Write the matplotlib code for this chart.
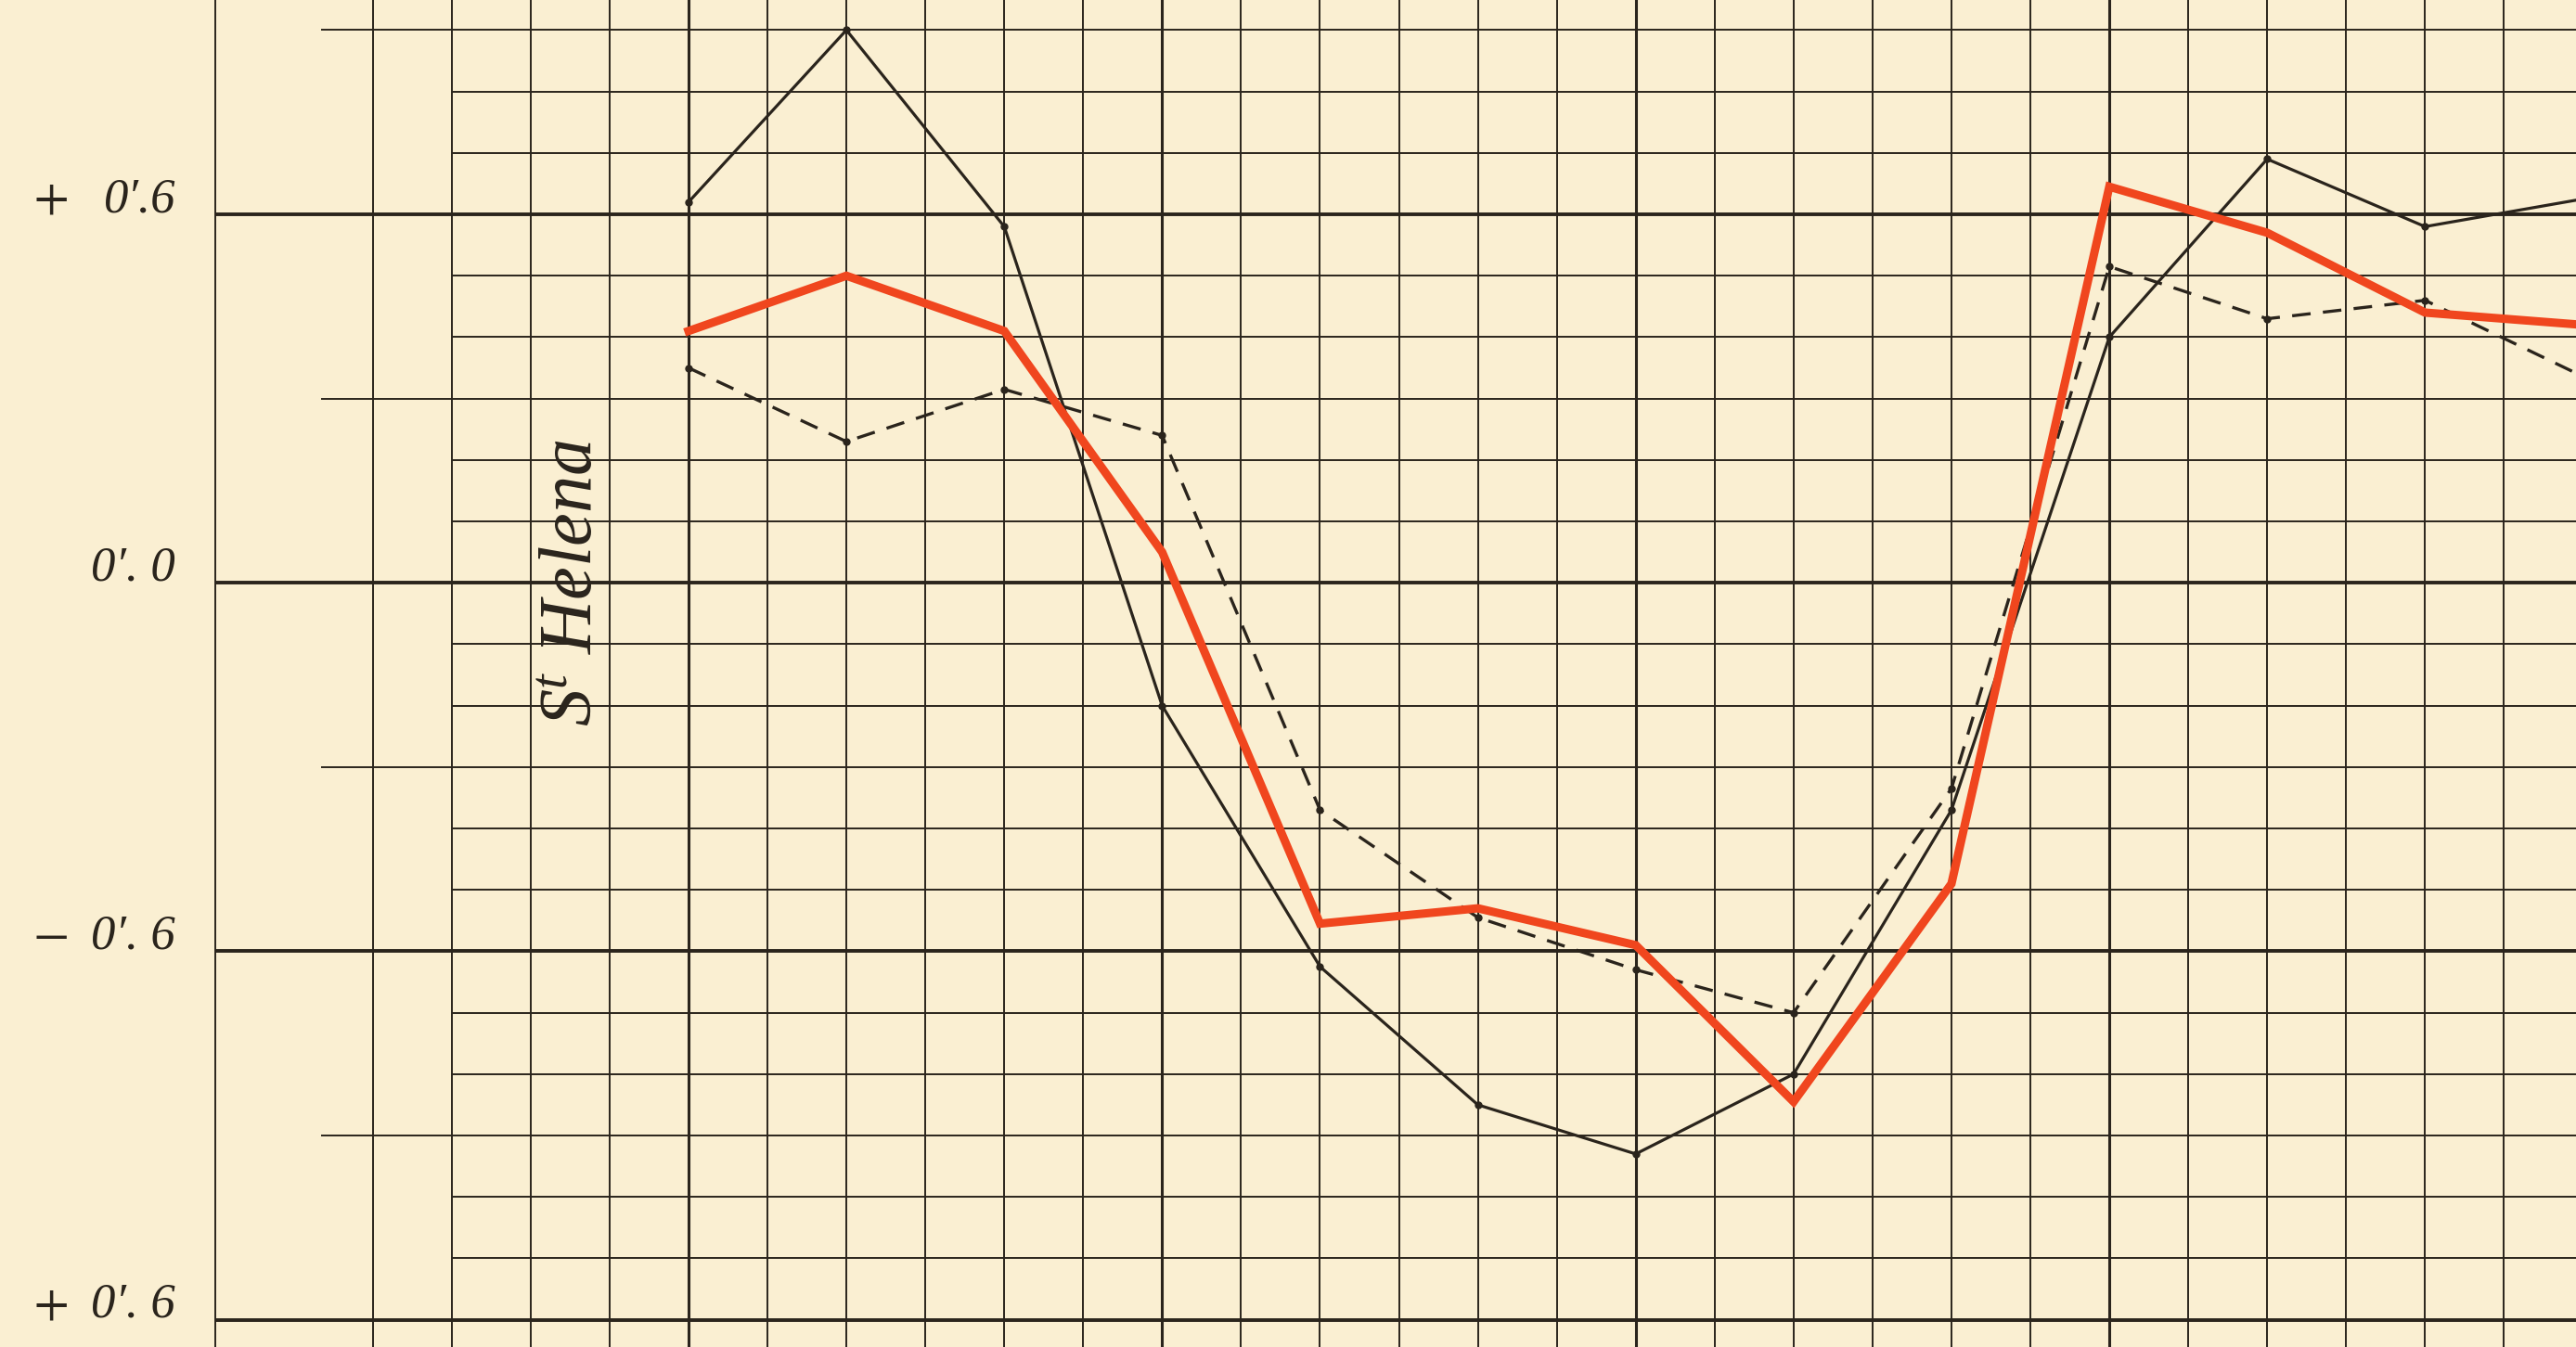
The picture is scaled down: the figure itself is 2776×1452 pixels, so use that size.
import numpy as np
import matplotlib
matplotlib.use("Agg")
from matplotlib import pyplot as plt

plt.rcParams['font.family'] = ['Liberation Serif', 'DejaVu Serif']
plt.rcParams['mathtext.fontset'] = 'custom'
plt.rcParams['mathtext.rm'] = 'Liberation Serif:italic'
plt.rcParams['mathtext.it'] = 'Liberation Serif:italic'

# positions of the readings (two small squares apart)
x_pos = [0, 2, 4, 6, 8, 10, 12, 14, 16, 18, 20, 22, 24]

# three curves
solid_black = [0.62, 0.90, 0.58, -0.20, -0.625, -0.85, -0.93, -0.80, -0.37, 0.40, 0.69, 0.58, 0.625]
red_thick = [0.41, 0.50, 0.41, 0.05, -0.555, -0.53, -0.59, -0.845, -0.49, 0.645, 0.57, 0.44, 0.42]
dashed_black = [0.35, 0.23, 0.315, 0.24, -0.37, -0.545, -0.63, -0.70, -0.335, 0.515, 0.43, 0.46, 0.336]

y_signs = ["+", "", "\u2212", "+"]
y_labels = ["0\u2032.6", "0\u2032. 0", "0\u2032. 6", "0\u2032. 6"]
y_label_vals = [0.6, 0.0, -0.6, -1.2]
station = r"S$^{t}$ Helena"

paper = "#faefd2"
ink = "#2a241c"
red = "#f0461e"

fig = plt.figure(figsize=(27.76, 14.52), dpi=100, facecolor=paper)
ax = fig.add_axes([0, 0, 1, 1])
ax.set_facecolor(paper)
ax.set_xlim(-742 / 85.06, (2776 - 742) / 85.06)
ax.set_ylim(0.949 - 1452 / 662, 0.949)
ax.axis("off")

right = 25

# vertical ruling
for xv in [-6, -4, -3, -2, -1] + list(range(0, 24)):
    lw = 2.2 if (xv % 6 == 0 and xv >= 0) else 1.4
    ax.axvline(xv, color=ink, lw=lw, zorder=1)

# horizontal ruling
for k in range(-12, 10):
    yv = k / 10
    if k % 6 == 0:
        ax.hlines(yv, -6, right, color=ink, lw=2.8, zorder=1)
    elif k % 3 == 0:
        ax.hlines(yv, -4.65, right, color=ink, lw=1.4, zorder=1)
    else:
        ax.hlines(yv, -3, right, color=ink, lw=1.4, zorder=1)

ax.plot(x_pos, dashed_black, color=ink, lw=2.4, dashes=(6, 4), marker="o", ms=5, zorder=3)
ax.plot(x_pos, solid_black, color=ink, lw=2.3, marker="o", ms=5, zorder=3)
ax.plot(x_pos, red_thick, color=red, lw=6.5, solid_joinstyle="miter", zorder=4)

for sign, lab, yv in zip(y_signs, y_labels, y_label_vals):
    ax.text(-6.5, yv + 0.004, lab, ha="right", va="baseline", fontsize=38,
            fontstyle="italic", color=ink)
    ax.text(-8.08, yv - 0.012, sign, ha="center", va="baseline", fontsize=50,
            fontweight="light", color=ink)

ax.text(-1.45, 0.0, station, rotation=90, ha="center", va="center", fontsize=58,
        fontstyle="italic", color=ink)

fig.savefig("out.png", dpi=100, facecolor=paper)
